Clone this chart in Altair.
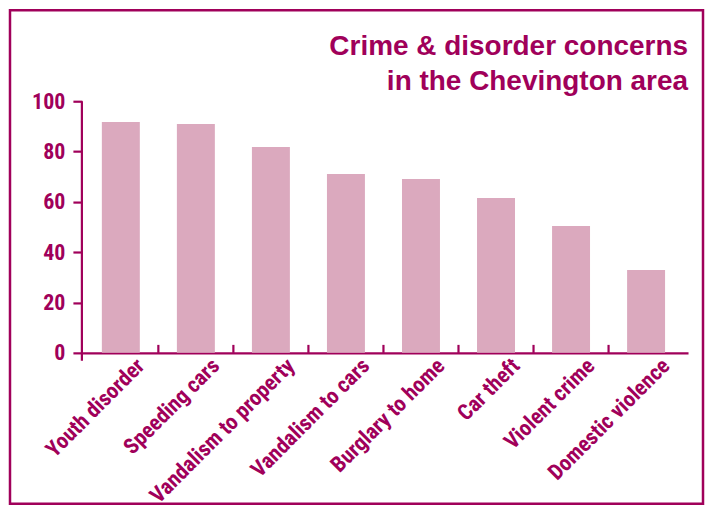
import altair as alt
import pandas as pd

# ---- data ----
categories = [
    "Youth disorder", "Speeding cars", "Vandalism to property",
    "Vandalism to cars", "Burglary to home", "Car theft",
    "Violent crime", "Domestic violence",
]
values = [91.7, 90.9, 81.8, 71.1, 69.1, 61.5, 50.4, 32.9]
y_ticks = [0, 20, 40, 60, 80, 100]
title_lines = ["Crime & disorder concerns", "in the Chevington area"]

# ---- style ----
DARK = "#A0005A"
BAR = "#DBA9BE"
NARROW = "Liberation Sans Narrow, Roboto Condensed, DejaVu Sans Condensed, Arial Narrow, sans-serif"
SANS = "Liberation Sans, Arial, Helvetica, sans-serif"

W, H = 607, 252
P_IN, P_OUT, ALIGN = 0.494, 0.286, 0.465
step = W / (len(categories) - P_IN + 2 * P_OUT)
gap_half = step * P_IN / 2

df = pd.DataFrame({"category": categories, "value": values})
one = pd.DataFrame({"k": [0]})

xscale = alt.Scale(domain=categories, paddingInner=P_IN, paddingOuter=P_OUT, align=ALIGN)
yscale = alt.Scale(domain=[0, 100], nice=False)

bars = alt.Chart(df).mark_bar(color=BAR).encode(
    x=alt.X(
        "category:N", sort=categories, scale=xscale,
        axis=alt.Axis(
            title=None, ticks=False, tickSize=0, domain=True,
            domainColor=DARK, domainWidth=2.2,
            labelAngle=315, labelAlign="right", labelBaseline="middle",
            labelOffset=20, labelPadding=9, labelLimit=400,
            labelFont=NARROW, labelFontSize=22, labelFontWeight="bold",
            labelColor=DARK, labelOverlap=False,
        ),
    ),
    y=alt.Y(
        "value:Q", scale=yscale,
        axis=alt.Axis(
            title=None, values=y_ticks, grid=False, domain=False,
            ticks=True, tickSize=9, tickWidth=2.2, tickColor=DARK,
            labelPadding=8, labelFont=NARROW, labelFontSize=22,
            labelFontWeight="bold", labelColor=DARK,
        ),
    ),
)

# small inward ticks between categories on the x axis
xticks = alt.Chart(df.iloc[:-1]).mark_rule(
    color=DARK, strokeWidth=2.2, xOffset=gap_half
).encode(
    x=alt.X("category:N", sort=categories, scale=xscale, bandPosition=1),
    y=alt.value(H - 8),
    y2=alt.value(H),
)

# y axis line, extending slightly below the baseline
yline = alt.Chart(one).mark_rule(color=DARK, strokeWidth=2.2).encode(
    x=alt.value(0), y=alt.value(0), y2=alt.value(H + 8)
)

title = alt.Chart(one).mark_text(
    text=title_lines, align="right", baseline="alphabetic",
    font=SANS, fontSize=28, fontWeight="bold", color=DARK, lineHeight=35,
).encode(x=alt.value(W), y=alt.value(-46))

frame = alt.Chart(one).mark_rect(
    fill="transparent", stroke=DARK, strokeWidth=2.5
).encode(
    x=alt.value(-72), x2=alt.value(W + 15),
    y=alt.value(-91), y2=alt.value(H + 151),
)

chart = alt.layer(frame, bars, xticks, yline, title).properties(
    width=W, height=H, padding=0, background="white"
).configure_view(strokeWidth=0)

chart.save("out.html", embed_options={"renderer": "svg", "actions": False})
